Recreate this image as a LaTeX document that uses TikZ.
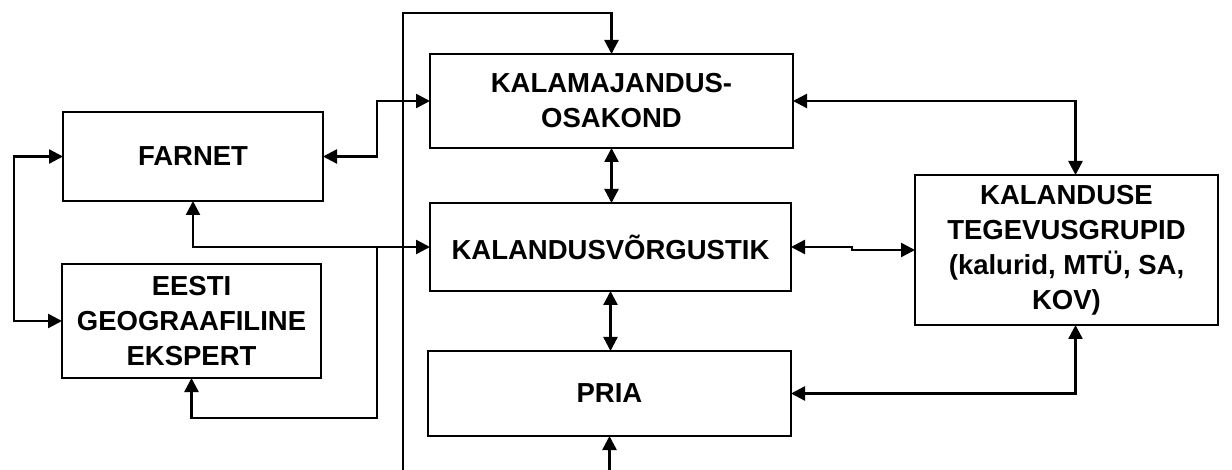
\documentclass[tikz,border=0pt]{standalone}
\usepackage{fontspec}
\setmainfont{Liberation Sans}
\usetikzlibrary{arrows.meta}
\begin{document}
\begin{tikzpicture}[x=1pt,y=-1pt,
  box/.style={draw,line width=1.8pt,inner sep=0pt,outer sep=0pt,align=center,
    font=\fontsize{27.5}{35}\selectfont\bfseries},
  conn/.style={line width=2.4pt},
  >={Triangle[length=14pt,width=14pt]}]
\useasboundingbox (0,0) rectangle (1232,470);
\clip (0,0) rectangle (1232,470);
\node[box,minimum width=363pt,minimum height=94pt] (kam) at (611.5,101) {KALAMAJANDUS-\\OSAKOND};
\node[box,minimum width=361pt,minimum height=88pt] (kv) at (610.5,247) {KALANDUSVÕRGUSTIK};
\node[box,minimum width=363pt,minimum height=85pt] (pria) at (609.5,393.5) {PRIA};
\node[box,minimum width=260pt,minimum height=89pt] (farnet) at (193,156.5) {FARNET};
\node[box,minimum width=259pt,minimum height=114pt] (eesti) at (191.5,321) {EESTI\\GEOGRAAFILINE\\EKSPERT};
\node[box,minimum width=303pt,minimum height=150pt] (teg) at (1066.5,250) {KALANDUSE\\TEGEVUSGRUPID\\(kalurid, MTÜ, SA,\\KOV)};
\coordinate (jt) at (377,247);
\coordinate (jb) at (377,418);
\coordinate (lb) at (403,485);
\coordinate (lt) at (403,13);
\coordinate (tx) at (1075.5,0);
\draw[conn,<->] (farnet.east) -- ++(54,0) |- (kam.west);
\draw[conn,<->] (farnet.south) |- (kv.west);
\draw[conn,->] (jt) -- (jb) -| (eesti.south);
\draw[conn,<->] (farnet.west) -- ++(-49,0) |- (eesti.west);
\draw[conn,<->] (pria.south) |- (lb) -- (lt) -| (kam.north);
\draw[conn,<->] (kam.south) -- (kam.south |- kv.north);
\draw[conn,<->] (kv.south) -- (kv.south |- pria.north);
\draw[conn,<->] (kam.east) -| (teg.north -| tx);
\draw[conn,<->] (kv.east) -- ++(61,0) |- (teg.west);
\draw[conn,<->] (pria.east) -| (teg.south -| tx);
\end{tikzpicture}
\end{document}
